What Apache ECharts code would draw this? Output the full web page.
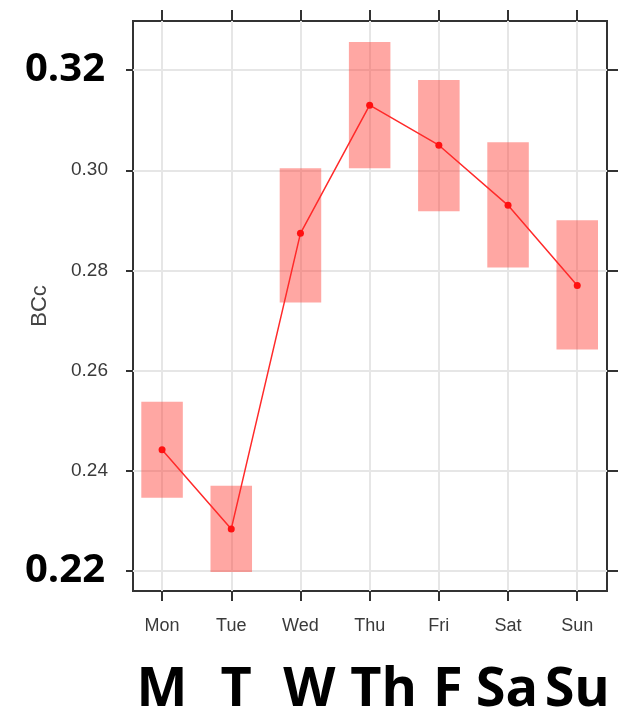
<!DOCTYPE html>
<html>
<head>
<meta charset="utf-8">
<script src="https://cdn.jsdelivr.net/npm/echarts@6.0.0/dist/echarts.min.js"></script>
<style>
  html, body { margin: 0; padding: 0; background: #fff; }
  #chart { width: 621px; height: 714px; }
</style>
</head>
<body>
<div id="chart"></div>
<script>
// day of week categories
var days = ['Mon', 'Tue', 'Wed', 'Thu', 'Fri', 'Sat', 'Sun'];
var dayShort = ['M', 'T', 'W', 'Th', 'F', 'Sa', 'Su'];
// BCc mean and interval per day
var means = [0.2442, 0.2284, 0.2874, 0.3130, 0.3050, 0.2930, 0.2770];
var lower = [0.2346, 0.2198, 0.2736, 0.3004, 0.2918, 0.2806, 0.2642];
var upper = [0.2538, 0.2370, 0.3004, 0.3256, 0.3180, 0.3056, 0.2900];
var yTicks = [0.22, 0.24, 0.26, 0.28, 0.30, 0.32];
var bigYTicks = [0.22, 0.32];

var xPos = days.map(function (d, i) { return i + 1; });

var chart = echarts.init(document.getElementById('chart'));

var boxData = xPos.map(function (x, i) { return [x, lower[i], upper[i]]; });
var lineData = xPos.map(function (x, i) { return [x, means[i]]; });

var xMin = 0.58, xMax = 7.43;
var yMin = 0.216, yMax = 0.3298;

// the big letters under the axis are not exactly centred on the ticks
var bigShift = [0, 5, 9, 14, 9, -1, 0];
var xRich = {
    s: { fontFamily: 'Liberation Sans', fontSize: 18, color: '#3a3a3a', lineHeight: 24 }
};
bigShift.forEach(function (s, i) {
    xRich['b' + i] = {
        fontFamily: 'Open Sans', fontWeight: 'bold', fontSize: 54, color: '#000',
        lineHeight: 106,
        padding: s >= 0 ? [0, 0, 0, 2 * s] : [0, -2 * s, 0, 0]
    };
});

chart.setOption({
    animation: false,
    grid: {
        left: 133, right: 14, top: 21, bottom: 123,
        outerBoundsMode: 'none',
        containLabel: false,
        show: true,
        borderColor: '#333',
        borderWidth: 2
    },
    xAxis: [{
        type: 'value',
        position: 'bottom',
        min: xMin, max: xMax,
        axisLine: { show: false },
        axisTick: { show: true, customValues: xPos, length: 10, lineStyle: { color: '#333', width: 2 } },
        splitLine: { show: true, lineStyle: { color: '#e6e6e6', width: 2 } },
        axisLabel: {
            customValues: xPos,
            margin: 23,
            formatter: function (v) {
                var i = Math.round(v) - 1;
                return '{s|' + days[i] + '}\n{b' + i + '|' + dayShort[i] + '}';
            },
            rich: xRich
        }
    }, {
        type: 'value',
        position: 'top',
        min: xMin, max: xMax,
        axisLine: { show: false },
        axisTick: { show: true, customValues: xPos, length: 11, lineStyle: { color: '#333', width: 2 } },
        splitLine: { show: false },
        axisLabel: { show: false }
    }],
    yAxis: [{
        type: 'value',
        position: 'left',
        min: yMin, max: yMax,
        name: 'BCc',
        nameLocation: 'middle',
        nameGap: 82,
        nameMoveOverlap: false,
        nameTextStyle: { fontFamily: 'Liberation Sans', fontSize: 22, color: '#444' },
        axisLine: { show: false },
        axisTick: { show: true, customValues: yTicks, length: 7, lineStyle: { color: '#333', width: 2 } },
        splitLine: { show: true, lineStyle: { color: '#e6e6e6', width: 2 } },
        axisLabel: {
            customValues: yTicks,
            margin: 25,
            formatter: function (v) {
                var big = bigYTicks.some(function (b) { return Math.abs(b - v) < 1e-6; });
                return big ? '{b|' + v.toFixed(2) + '}' : '{s|' + v.toFixed(2) + '}';
            },
            rich: {
                s: { fontFamily: 'Liberation Sans', fontSize: 19, color: '#3a3a3a' },
                b: { fontFamily: 'Open Sans', fontWeight: 'bold', fontSize: 40, color: '#000', padding: [0, 3, 0, 0] }
            }
        }
    }, {
        type: 'value',
        position: 'right',
        min: yMin, max: yMax,
        axisLine: { show: false },
        axisTick: { show: true, customValues: yTicks, length: 11, lineStyle: { color: '#333', width: 2 } },
        splitLine: { show: false },
        axisLabel: { show: false }
    }],
    series: [{
        type: 'custom',
        xAxisIndex: 0,
        yAxisIndex: 0,
        data: boxData,
        renderItem: function (params, api) {
            var x = api.value(0);
            var p1 = api.coord([x - 0.3, api.value(2)]);
            var p2 = api.coord([x + 0.3, api.value(1)]);
            return {
                type: 'rect',
                shape: { x: p1[0], y: p1[1], width: p2[0] - p1[0], height: p2[1] - p1[1] },
                style: { fill: 'rgba(255, 60, 50, 0.45)' }
            };
        },
        z: 2
    }, {
        type: 'line',
        xAxisIndex: 0,
        yAxisIndex: 0,
        data: lineData,
        symbol: 'circle',
        symbolSize: 7,
        lineStyle: { color: '#ff2a2a', width: 1.5 },
        itemStyle: { color: '#ff1010' },
        z: 3
    }]
});
</script>
</body>
</html>
